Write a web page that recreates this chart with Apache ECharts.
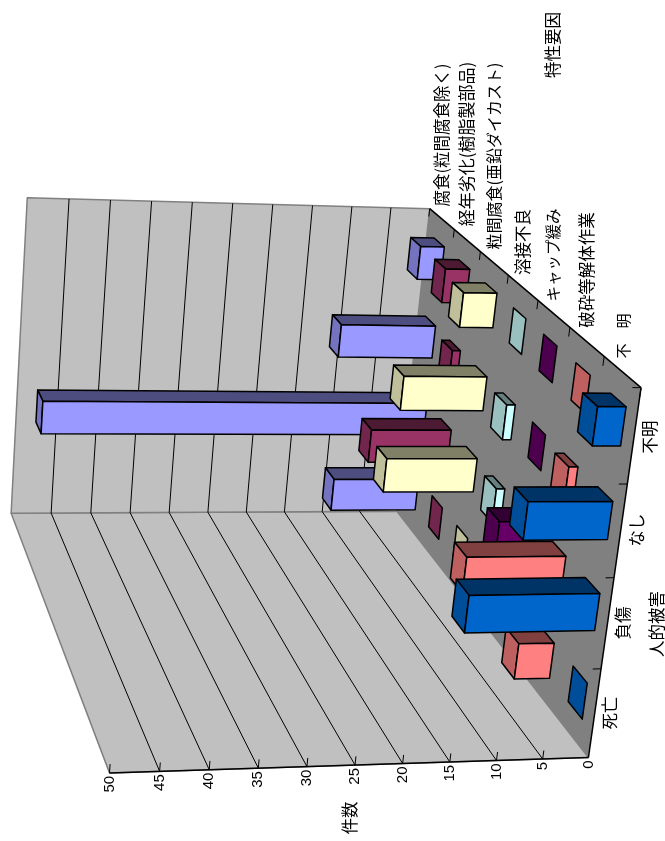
<!DOCTYPE html>
<html><head><meta charset="utf-8">
<style>html,body{margin:0;padding:0;background:#fff}#c{width:665px;height:841px}</style>
<script src="https://cdn.jsdelivr.net/npm/echarts@6/dist/echarts.min.js"></script>
</head><body><div id="c"></div>
<script>
const damageLabels = ['死亡','負傷','なし','不明'];
const valueTicks = [0,5,10,15,20,25,30,35,40,45,50];
const causeLabels = ['不　明','破砕等解体作業','キャップ緩み','溶接不良','粒間腐食(亜鉛ダイカスト)','経年劣化(樹脂製部品)','腐食(粒間腐食除く)'];
const unknownCause = [0,14,9,3];
const crushing     = [4,11,1,0];
const capLoose     = [0,4,0,0];
const weldFault    = [0,1,1,0];
const zincCorrosion= [0,11,10,4];
const agingResin   = [0,10,1,3];
const corrosion    = [11,48,12,3];
const rows = [unknownCause,crushing,capLoose,weldFault,zincCorrosion,agingResin,corrosion];
const rowColors = ['#0066CC','#FF8080','#660066','#CCFFFF','#FFFFCC','#993366','#9999FF'];

// camera anchors: [x,depth,value] (unit cube) -> screen
const anchors = [
 [0,0,0,588,758],[1,0,0,641,387],[1,1,0,430,209],[0,1,0,397,511],
 [0,0,1,110,773],[0,1,1,11,513],[1,1,1,27,198]
];
function solveCamera(){
  const A=[],b=[];
  anchors.forEach(([X,Y,Z,u,v])=>{
    A.push([X,Y,Z,1,0,0,0,0,-u*X,-u*Y,-u*Z]);b.push(u);
    A.push([0,0,0,0,X,Y,Z,1,-v*X,-v*Y,-v*Z]);b.push(v);
  });
  const n=11,M=[];
  for(let i=0;i<n;i++){M[i]=[];for(let j=0;j<=n;j++){let s=0;for(let k=0;k<A.length;k++)s+=A[k][i]*(j<n?A[k][j]:b[k]);M[i][j]=s;}}
  for(let i=0;i<n;i++){let p=i;for(let r=i+1;r<n;r++)if(Math.abs(M[r][i])>Math.abs(M[p][i]))p=r;
    [M[i],M[p]]=[M[p],M[i]];
    for(let r=0;r<n;r++){if(r===i)continue;const f=M[r][i]/M[i][i];for(let c=i;c<=n;c++)M[r][c]-=f*M[i][c];}}
  return M.map((r,i)=>r[n]/r[i]);
}
const H=solveCamera();
function P(x,y,z){const w=H[8]*x+H[9]*y+H[10]*z+1;
  return [(H[0]*x+H[1]*y+H[2]*z+H[3])/w,(H[4]*x+H[5]*y+H[6]*z+H[7])/w];}

const FILL_WIDTH=0.41, FILL_DEPTH=0.42;
const nD=damageLabels.length, nC=causeLabels.length, vMax=50;
const W=665,Ht=841;

function shade(hex,f){const n=parseInt(hex.slice(1),16);
  const c=[n>>16&255,n>>8&255,n&255].map(v=>Math.round(v*f));
  return `rgb(${c[0]},${c[1]},${c[2]})`;}
function poly(pts,fill,stroke,lw){return {type:'polygon',shape:{points:pts},style:{fill:fill,stroke:stroke||null,lineWidth:lw||1,lineJoin:'round'}};}
function seg(a,b,color,lw){return {type:'line',shape:{x1:a[0],y1:a[1],x2:b[0],y2:b[1]},style:{stroke:color,lineWidth:lw||1}};}

function renderBar(rowIdx){
  return function(params,api){
    const c=api.coord([api.value(0),api.value(1)]);
    const u=c[0]/W, z=1-c[1]/Ht;
    const hw=FILL_WIDTH/nD/2, y0=(rowIdx+.5-FILL_DEPTH/2)/nC, y1=(rowIdx+.5+FILL_DEPTH/2)/nC;
    const x0=u-hw,x1=u+hw,col=rowColors[rowIdx];
    const kids=[];
    if(z>0){
      kids.push(poly([P(x1,y0,0),P(x1,y1,0),P(x1,y1,z),P(x1,y0,z)],shade(col,.5),'#000',1.5));
      kids.push(poly([P(x0,y0,z),P(x1,y0,z),P(x1,y1,z),P(x0,y1,z)],shade(col,.75),'#000',1.5));
      kids.push(poly([P(x0,y0,0),P(x1,y0,0),P(x1,y0,z),P(x0,y0,z)],col,'#000',1.5));
    } else {
      kids.push(poly([P(x0,y0,0),P(x1,y0,0),P(x1,y1,0),P(x0,y1,0)],shade(col,.75),'#000',1.5));
    }
    return {type:'group',children:kids};
  };
}
function renderScene(params,api){
  const kids=[];
  kids.push(poly([P(0,0,0),P(0,1,0),P(0,1,1),P(0,0,1)],'#C0C0C0','#808080',1.5));
  kids.push(poly([P(0,1,0),P(1,1,0),P(1,1,1),P(0,1,1)],'#C0C0C0','#808080',1.5));
  kids.push(poly([P(0,0,0),P(1,0,0),P(1,1,0),P(0,1,0)],'#808080'));
  valueTicks.forEach(v=>{ const z=v/vMax;
    if(v>0&&v<vMax){kids.push(seg(P(0,0,z),P(0,1,z),'#000',1));kids.push(seg(P(0,1,z),P(1,1,z),'#000',1));}
    if(v>0) kids.push(seg(P(0,0,z),P(0.024,0,z),'#000',1));
  });
  kids.push(seg(P(0,0,0),P(0,0,1),'#000',1.5));
  kids.push(seg(P(0,0,0),P(1,0,0),'#000',1.5));
  kids.push(seg(P(1,0,0),P(1,1,0),'#000',1.5));
  for(let i=1;i<=nD;i++) kids.push(seg(P(i/nD,0,0),P(i/nD,0,0.018),'#000',1));
  for(let i=0;i<=nC;i++) kids.push(seg(P(1,i/nC,0),P(0.975,i/nC,0),'#000',1));
  return {type:'group',children:kids};
}

const JP='"Noto Sans CJK JP","Noto Sans",sans-serif';
function label(text,x,y,size,fam,align){return {type:'text',x:x,y:y,rotation:Math.PI/2,z:50,silent:true,
  style:{text:text,fontSize:size,fontFamily:fam||JP,fill:'#000',align:align||'center',verticalAlign:'middle'}};}
const graphics=[];
valueTicks.forEach(v=>{const p=P(0,0,v/vMax);graphics.push(label(String(v),p[0],p[1]+3,15,'"Liberation Sans",Arial,sans-serif','right'));});
const damagePos=[[610,713],[623,623],[637,530],[650,437]];
damageLabels.forEach((t,i)=>graphics.push(label(t,damagePos[i][0],damagePos[i][1],16.5)));
const causePos=[[623,336,15],[587,270,16.5],[553,255,15.5],[523,242,16.5],[494,156,16],[467,144,17],[442,135,16.5]];
causeLabels.forEach((t,i)=>graphics.push(label(t,causePos[i][0],causePos[i][1],causePos[i][2])));
graphics.push(label('人的被害',657,624,16.5));
graphics.push(label('特性要因',553,45,16.5));
graphics.push(label('件数',350,818,16.5));

const series=[{type:'custom',coordinateSystem:'none',renderItem:renderScene,data:[[0]],silent:true,z:1}];
for(let r=nC-1;r>=0;r--){
  series.push({type:'custom',name:causeLabels[r],renderItem:renderBar(r),silent:true,z:2+(nC-r),
    data:rows[r].map((v,i)=>[i,v]),encode:{x:0,y:1},clip:false});
}
const chart=echarts.init(document.getElementById('c'),null,{renderer:'canvas'});
chart.setOption({animation:false,backgroundColor:'#fff',
  grid:{left:0,right:0,top:0,bottom:0,containLabel:false},
  xAxis:{type:'category',data:damageLabels,show:false,boundaryGap:true},
  yAxis:{type:'value',min:0,max:vMax,show:false},
  graphic:graphics,series:series});
</script></body></html>
